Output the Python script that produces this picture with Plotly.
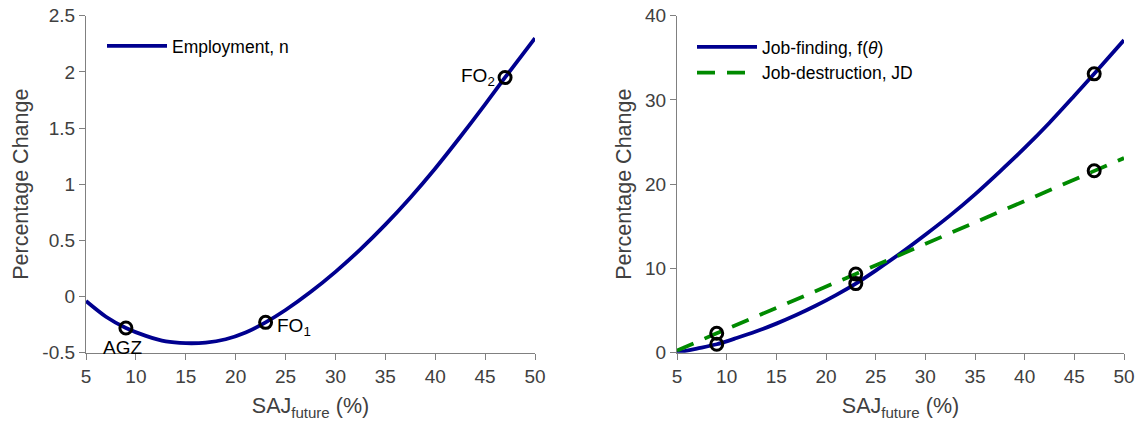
import plotly.graph_objects as go

# ---- Data ----
saj_left = [5, 7, 9, 11, 13, 15, 17, 19, 21, 23, 25, 27.5, 30, 32.5, 35, 37.5, 40, 42.5, 45, 47, 50]
employment = [-0.04, -0.18, -0.28, -0.35, -0.40, -0.415, -0.41, -0.38, -0.32, -0.23, -0.12, 0.04,
              0.22, 0.42, 0.64, 0.88, 1.14, 1.42, 1.71, 1.95, 2.30]

saj_right = [5, 7, 9, 11, 13, 15, 17, 19, 21, 23, 25, 27.5, 30, 32.5, 35, 37.5, 40, 42.5, 45, 47, 50]
job_finding = [0.0, 0.49, 1.0, 1.74, 2.54, 3.45, 4.47, 5.6, 6.84, 8.2, 9.75, 11.8, 14.0, 16.3,
               18.8, 21.5, 24.3, 27.3, 30.5, 33.1, 37.1]

saj_jd = [5, 9, 23, 47, 50]
job_destruction = [0.25, 2.3, 9.35, 21.6, 23.1]

marker_x = [9, 23, 47]
marker_labels = ["AGZ", "FO<sub>1</sub>", "FO<sub>2</sub>"]
emp_markers = [-0.28, -0.23, 1.95]
jf_markers = [1.0, 8.2, 33.1]
jd_markers = [2.3, 9.35, 21.6]

x_ticks = [5, 10, 15, 20, 25, 30, 35, 40, 45, 50]
y_left_ticks = [-0.5, 0, 0.5, 1, 1.5, 2, 2.5]
y_left_text = ["-0.5", "0", "0.5", "1", "1.5", "2", "2.5"]
y_right_ticks = [0, 10, 20, 30, 40]

# ---- Styles ----
BLUE = "#00008f"
GREEN = "#008a00"
FONT = "Liberation Sans, Arial, Helvetica, sans-serif"
AXIS_COLOR = "#808080"
TICK_FONT = dict(family=FONT, size=19, color="#404040")
TITLE_FONT = dict(family=FONT, size=21.5, color="#404040")
LEGEND_FONT = dict(family=FONT, size=17.5, color="black")

fig = go.Figure()

fig.add_trace(go.Scatter(x=saj_left, y=employment, mode="lines", name="Employment, n",
                         line=dict(color=BLUE, width=3.8, shape="spline", smoothing=0.8),
                         xaxis="x", yaxis="y", legend="legend"))
fig.add_trace(go.Scatter(x=marker_x, y=emp_markers, mode="markers", showlegend=False,
                         marker=dict(symbol="circle-open", size=12, color="black",
                                     line=dict(width=3, color="black")),
                         xaxis="x", yaxis="y"))

fig.add_trace(go.Scatter(x=saj_right, y=job_finding, mode="lines", name="Job-finding, f(<i>θ</i>)",
                         line=dict(color=BLUE, width=3.8, shape="spline", smoothing=0.8),
                         xaxis="x2", yaxis="y2", legend="legend2"))
fig.add_trace(go.Scatter(x=saj_jd, y=job_destruction, mode="lines", name="Job-destruction, JD",
                         line=dict(color=GREEN, width=3.8, dash="18px,12px"),
                         xaxis="x2", yaxis="y2", legend="legend2"))
fig.add_trace(go.Scatter(x=marker_x + marker_x, y=jf_markers + jd_markers, mode="markers",
                         showlegend=False,
                         marker=dict(symbol="circle-open", size=12, color="black",
                                     line=dict(width=3, color="black")),
                         xaxis="x2", yaxis="y2"))

# Point labels
label_pos = [
    dict(xanchor="center", yanchor="top", xshift=-3, yshift=-7),
    dict(xanchor="left", yanchor="middle", xshift=9, yshift=-5),
    dict(xanchor="right", yanchor="middle", xshift=-8, yshift=0),
]
for xv, yv, txt, pos in zip(marker_x, emp_markers, marker_labels, label_pos):
    fig.add_annotation(x=xv, y=yv, xref="x", yref="y", text=txt, showarrow=False,
                       font=dict(family=FONT, size=19, color="black"), **pos)

common_x = dict(range=[5, 50], tickvals=x_ticks, showline=True, linecolor=AXIS_COLOR, linewidth=1.2,
                ticks="outside", ticklen=6, tickcolor=AXIS_COLOR, tickfont=TICK_FONT,
                showgrid=False, zeroline=False, automargin=False,
                title=dict(text="SAJ<sub>future</sub> (%)", font=TITLE_FONT, standoff=12))
common_y = dict(showline=True, linecolor=AXIS_COLOR, linewidth=1.2, ticks="outside", ticklen=6,
                tickcolor=AXIS_COLOR, tickfont=TICK_FONT, showgrid=False, zeroline=False,
                automargin=False, title=dict(text="Percentage Change", font=TITLE_FONT, standoff=7))

dom_y = [1 - 352.7 / 428, 1 - 15.7 / 428]
fig.update_layout(
    width=1140, height=428,
    margin=dict(l=0, r=0, t=0, b=0),
    paper_bgcolor="white", plot_bgcolor="white",
    font=dict(family=FONT),
    xaxis=dict(domain=[86 / 1140, 535 / 1140], anchor="y", **common_x),
    yaxis=dict(domain=dom_y, anchor="x", range=[-0.5, 2.5], tickvals=y_left_ticks,
               ticktext=y_left_text, **common_y),
    xaxis2=dict(domain=[677 / 1140, 1124 / 1140], anchor="y2", **common_x),
    yaxis2=dict(domain=dom_y, anchor="x2", range=[0, 40], tickvals=y_right_ticks, **common_y),
    legend=dict(x=102 / 1140, y=1 - 28 / 428, xanchor="left", yanchor="top",
                bgcolor="rgba(0,0,0,0)", font=LEGEND_FONT, itemwidth=60),
    legend2=dict(x=692 / 1140, y=1 - 29 / 428, xanchor="left", yanchor="top",
                 bgcolor="rgba(0,0,0,0)", font=LEGEND_FONT, itemwidth=60, tracegroupgap=0),
    showlegend=True,
)

fig.write_html("out.html")
